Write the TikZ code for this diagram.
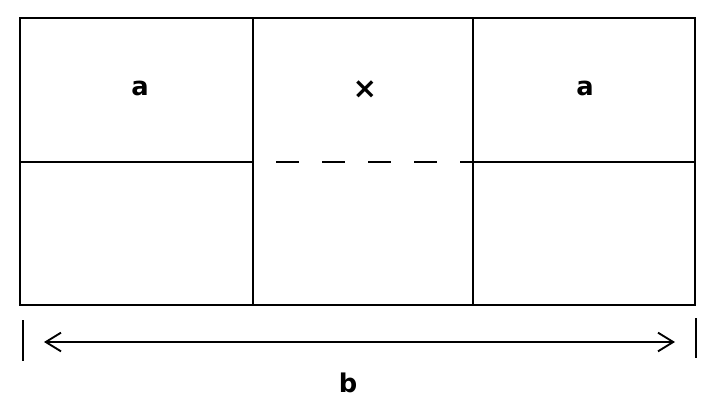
\documentclass[tikz,border=0pt]{standalone}
\usepackage{fontspec}
\setmainfont{DejaVu Sans}
\usetikzlibrary{arrows.meta}
\begin{document}
\begin{tikzpicture}[x=0.03cm,y=-0.03cm]
  \tikzstyle{every node}+=[inner sep=0pt]
  \tikzset{wall/.style={black,line width=1.6pt},
    lbl/.style={font=\fontsize{22}{24}\selectfont\bfseries}}
  \useasboundingbox (0,0) rectangle (714,414);
  % cells
  \draw [wall] (20,18) rectangle (695,305);
  \draw [wall] (253,18) -- (253,305);
  \draw [wall] (473,18) -- (473,305);
  \draw [wall] (20,162) -- (253,162);
  \draw [wall] (473,162) -- (695,162);
  \draw [wall,dash pattern=on 0.69cm off 0.69cm,dash phase=0.69cm] (253,162) -- (473,162);
  \draw (140,88) node [lbl] (la) {a};
  \draw (365,90) node [font=\fontsize{25}{26}\selectfont\bfseries] (lx) {×};
  \draw (585,88) node [lbl] (ra) {a};
  % dimension
  \coordinate (bl) at (23,340);
  \coordinate (br) at (696,340);
  \draw [wall] (23,320) -- (23,361);
  \draw [wall] (696,318) -- (696,358);
  \draw [wall,{Straight Barb[length=13pt,width=16pt]}-{Straight Barb[length=13pt,width=16pt]}] (44,342) -- (675,342);
  \draw (348,383) node [lbl] (lb) {b};
\end{tikzpicture}
\end{document}
